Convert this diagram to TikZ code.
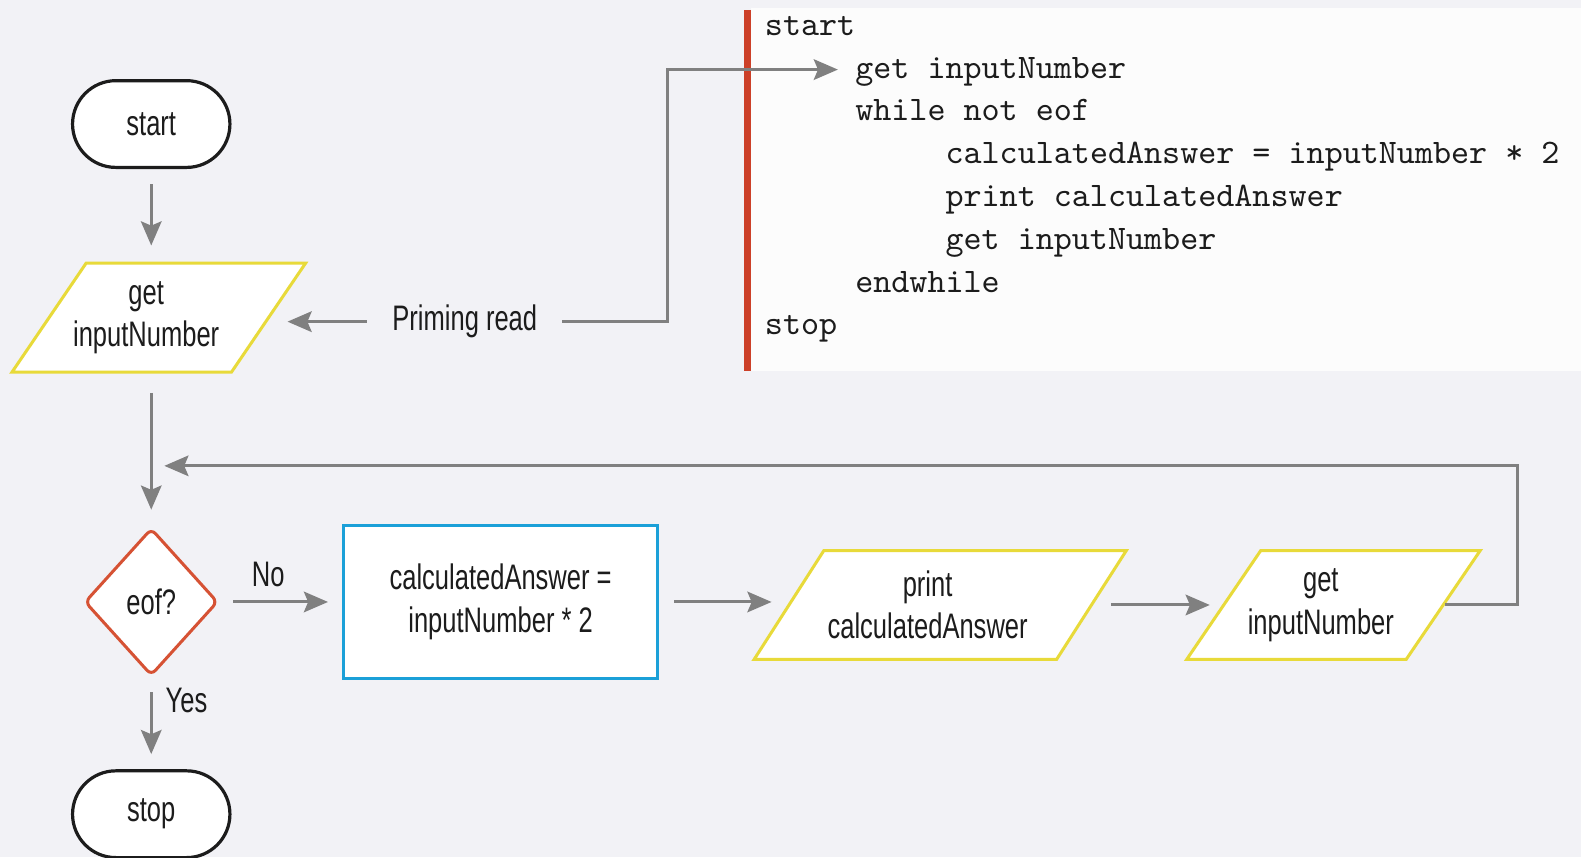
\documentclass[tikz,border=0pt]{standalone}
\usepackage{fontspec}
\setmainfont{Liberation Sans}[FakeStretch=0.72]
\usetikzlibrary{shapes.geometric,shapes.misc,arrows.meta,calc}

\definecolor{pagebg}{RGB}{242,242,246}
\definecolor{codebg}{RGB}{252,252,252}
\definecolor{codebar}{RGB}{204,64,40}
\definecolor{ioyellow}{RGB}{232,218,58}
\definecolor{procblue}{RGB}{27,160,216}
\definecolor{decred}{RGB}{214,82,52}
\definecolor{arrowgray}{RGB}{128,128,128}
\definecolor{inktext}{RGB}{28,28,28}

\newcommand\codeindent{\hspace*{2.625em}}
% sets a line of I/O text a little left of the shape's centre
\newcommand\ioline[1]{\makebox[\dimexpr\width-0.25cm\relax][r]{#1}}

\begin{document}
\begin{tikzpicture}[x=0.01cm,y=0.01cm,
  font=\fontsize{10}{12}\selectfont, text=inktext,
  terminal/.style={rounded rectangle, draw=inktext, line width=0.9pt, fill=white,
    minimum width=1.56cm, minimum height=0.86cm, inner sep=0pt},
  iobox/.style={trapezium, trapezium left angle=44.5, trapezium right angle=135.5,
    trapezium stretches body, draw=ioyellow, line width=0.85pt, fill=white,
    minimum height=1.08cm, align=center, inner sep=0pt},
  decision/.style={diamond, draw=decred, line width=0.85pt, fill=white,
    minimum width=1.32cm, minimum height=1.46cm, inner sep=0pt, rounded corners=0.06cm},
  process/.style={rectangle, draw=procblue, line width=0.9pt, fill=white,
    minimum width=3.11cm, minimum height=1.52cm, align=center},
  flow/.style={draw=arrowgray, line width=0.85pt,
    -{Stealth[length=6.8pt,width=5.8pt,inset=1.2pt]}},
  lbl/.style={inner sep=0pt}]

% page
\useasboundingbox (0,0) rectangle (1568,-850);
\fill[pagebg] (0,0) rectangle (1568,-850);

% pseudocode panel
\fill[codebg] (745,-8) rectangle (1568,-368);
\fill[codebar] (738,-10) rectangle (745,-368);
\node[anchor=base west, inner sep=0pt, align=left,
  font=\fontsize{9.7}{12.06}\ttfamily\selectfont] (code) at (758,-332)
  {start\\
   \codeindent get inputNumber\\
   \codeindent while not eof\\
   \codeindent\codeindent calculatedAnswer = inputNumber * 2\\
   \codeindent\codeindent print calculatedAnswer\\
   \codeindent\codeindent get inputNumber\\
   \codeindent endwhile\\
   stop};
\coordinate (codeget) at (831,-69);

% flowchart
\node[terminal] (start) at (150,-123) {start};
\node[iobox, minimum width=2.91cm] (get1) at (157.5,-315)
  {\ioline{get}\\\ioline{inputNumber}};
\node[lbl] (prime) at (461,-319) {Priming read};
\node[decision] (eof) at (150,-597) {eof?};
\node[process] (calc) at (496.5,-597) {calculatedAnswer =\\inputNumber * 2};
\node[iobox, minimum width=3.69cm] (print) at (932.5,-600)
  {\ioline{print}\\\ioline{calculatedAnswer}};
\node[iobox, minimum width=2.91cm] (get2) at (1322.5,-600)
  {\ioline{get}\\\ioline{inputNumber}};
\node[terminal] (stop) at (150,-807.5) {stop};
\node[lbl] (nolbl) at (266,-570) {No};
\node[lbl] (yeslbl) at (185,-695) {Yes};
\coordinate (loopin) at (163,-462);

% connectors
\draw[flow, shorten <=0.15cm, shorten >=0.16cm] (start.south) -- (start.south |- get1.north);
\draw[flow, shorten <=0.19cm, shorten >=0.17cm] (eof.north |- get1.south) -- (eof.north);
\draw[flow, shorten <=0.15cm, shorten >=0.15cm] (eof.south) -- (stop.north);
\draw[flow, shorten <=0.14cm, shorten >=0.14cm] (eof.east) -- (eof.east -| calc.west);
\draw[flow, shorten <=0.15cm, shorten >=0.155cm] (calc.east) -- (calc.east -| print.west);
\draw[flow, shorten <=0.175cm, shorten >=0.12cm] (print.east) -- (print.east -| get2.west);
\draw[flow] (get2.east) -- ++(72,0) |- (loopin);
\draw[flow, shorten <=0.25cm, shorten >=0.17cm] (prime.west) -- (prime.west -| get1.east);
\draw[flow, shorten <=0.24cm] (prime.east) -| ($(codeget)+(-169,0)$) -- (codeget);

\end{tikzpicture}
\end{document}
